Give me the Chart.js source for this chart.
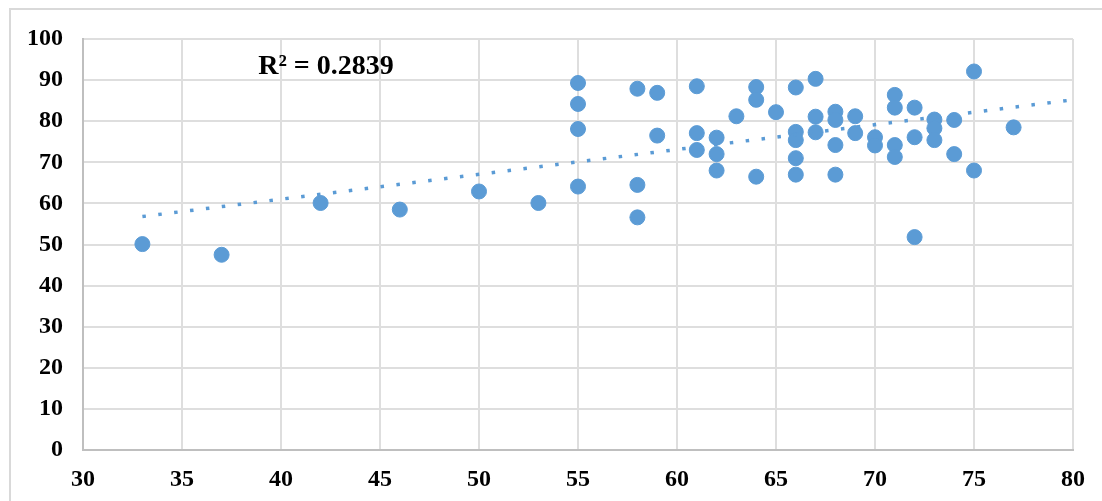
<!DOCTYPE html>
<html>
<head>
<meta charset="utf-8">
<script src="https://cdn.jsdelivr.net/npm/chart.js@4.4.0/dist/chart.umd.min.js"></script>
<style>
  html, body { margin: 0; padding: 0; background: #fff; overflow: hidden; }
  #frame { position: absolute; left: 9px; top: 8px; width: 1200px; height: 600px; border: 2px solid #d9d9d9; }
  #wrap { position: absolute; left: 0; top: 0; width: 1102px; height: 501px; }
</style>
</head>
<body>
<div id="frame"></div>
<div id="wrap"><canvas id="chart"></canvas></div>
<script>
// scatter points
const xValues = [
  33, 37, 42, 46, 50, 53,
  55, 55, 55, 55,
  58, 58, 58,
  59, 59,
  61, 61, 61,
  62, 62, 62,
  63,
  64, 64, 64,
  65,
  66, 66, 66, 66, 66,
  67, 67, 67,
  68, 68, 68, 68,
  69, 69,
  70, 70,
  71, 71, 71, 71,
  72, 72, 72,
  73, 73, 73,
  74, 74,
  75, 75,
  77,
];
const yValues = [
  50.1, 47.5, 60.1, 58.5, 62.9, 60.1,
  89.3, 84.2, 78.1, 64.1,
  87.9, 64.5, 56.6,
  86.9, 76.5,
  88.5, 77.1, 73.0,
  76.0, 72.0, 68.0,
  81.2,
  88.3, 85.2, 66.5,
  82.2,
  88.2, 77.4, 75.4, 71.0, 67.0,
  90.3, 81.1, 77.3,
  82.3, 80.3, 74.2, 67.0,
  81.2, 77.1,
  76.1, 74.1,
  86.4, 83.3, 74.2, 71.3,
  83.3, 76.1, 51.8,
  80.4, 78.3, 75.4,
  80.3, 72.0,
  92.1, 68.0,
  78.5,
];

// linear trendline end points
const trendX = [33, 80];
const trendY = [56.8, 85.2];

const xTicks = [30, 35, 40, 45, 50, 55, 60, 65, 70, 75, 80];
const yTicks = [0, 10, 20, 30, 40, 50, 60, 70, 80, 90, 100];
const r2Label = "R\u00b2 = 0.2839";

const BLUE = "#5b9bd5";
const FONT = "'Liberation Serif', 'Times New Roman', serif";

const points = xValues.map((x, i) => ({ x, y: yValues[i] }));
const trend = trendX.map((x, i) => ({ x, y: trendY[i] }));

const r2Plugin = {
  id: "r2Label",
  afterDatasetsDraw(chart) {
    const { ctx, scales } = chart;
    ctx.save();
    ctx.font = `bold 28px ${FONT}`;
    ctx.fillStyle = "#000";
    ctx.textAlign = "left";
    ctx.textBaseline = "alphabetic";
    ctx.fillText(r2Label, scales.x.getPixelForValue(38.85), scales.y.getPixelForValue(91.6));
    ctx.restore();
  },
};

new Chart(document.getElementById("chart"), {
  type: "scatter",
  data: {
    datasets: [
      {
        type: "line",
        data: trend,
        borderColor: BLUE,
        borderWidth: 3.5,
        borderDash: [3.5, 12.5],
        borderCapStyle: "butt",
        pointRadius: 0,
        fill: false,
        order: 0,
      },
      {
        data: points,
        backgroundColor: BLUE,
        borderColor: BLUE,
        borderWidth: 1,
        pointRadius: 7.5,
        order: 1,
      },
    ],
  },
  options: {
    responsive: true,
    maintainAspectRatio: false,
    animation: false,
    layout: { padding: { top: 39, right: 29, left: 0, bottom: 0 } },
    plugins: { legend: { display: false }, tooltip: { enabled: false } },
    scales: {
      x: {
        type: "linear",
        min: 30,
        max: 80,
        afterBuildTicks: (s) => { s.ticks = xTicks.map((v) => ({ value: v })); },
        afterFit: (s) => { s.height = 51; },
        ticks: {
          color: "#000",
          font: { family: FONT, size: 24, weight: "bold" },
          padding: 15,
          maxRotation: 0,
        },
        grid: { color: "#dedede", lineWidth: 2, drawTicks: false },
        border: { color: "#bfbfbf", width: 2 },
      },
      y: {
        min: 0,
        max: 100,
        afterBuildTicks: (s) => { s.ticks = yTicks.map((v) => ({ value: v })); },
        afterFit: (s) => { s.width = 83; },
        ticks: {
          color: "#000",
          font: { family: FONT, size: 24, weight: "bold" },
          padding: 20,
        },
        grid: { color: "#dedede", lineWidth: 2, drawTicks: false },
        border: { color: "#bfbfbf", width: 2 },
      },
    },
  },
  plugins: [r2Plugin],
});
</script>
</body>
</html>
